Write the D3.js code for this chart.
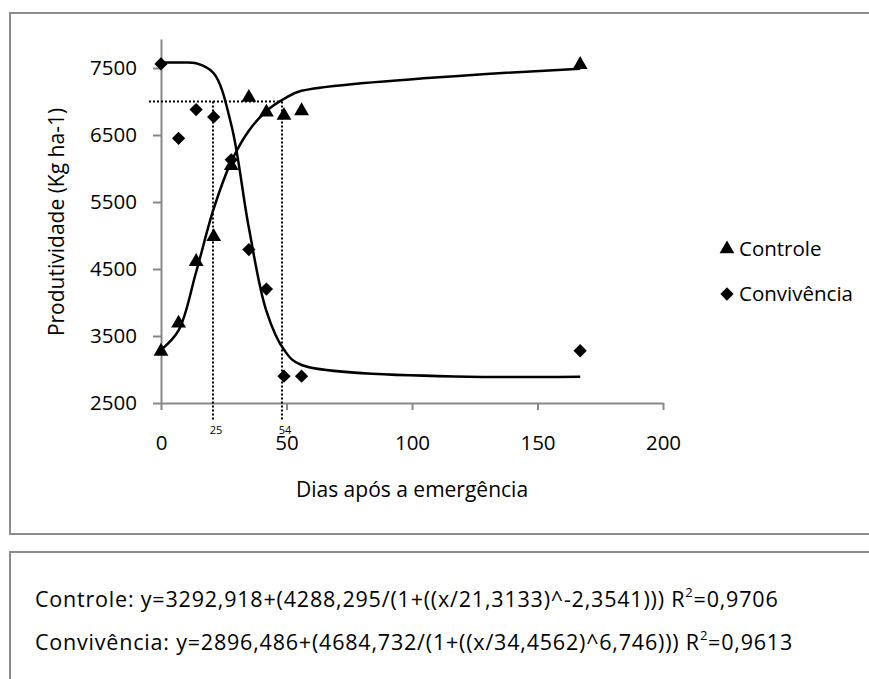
<!DOCTYPE html>
<html>
<head>
<meta charset="utf-8">
<script src="https://cdn.jsdelivr.net/npm/d3@7/dist/d3.min.js"></script>
<style>
  body { margin: 0; background: #fff; }
  text { font-family: "Open Sans", sans-serif; fill: #000; }
  .axis path, .axis line { stroke: #878787; stroke-width: 2; }
  .axis text { font-size: 20.5px; }
</style>
</head>
<body>
<div class="chart"></div>
<script>
// Produtividade x dias apos a emergencia

// observed points
var days = [0, 7, 14, 21, 28, 35, 42, 49, 56, 167];
var controle = [3270, 3690, 4610, 4980, 6040, 7060, 6840, 6790, 6860, 7550];
var convivencia = [7560, 6450, 6880, 6770, 6130, 4790, 4200, 2900, 2900, 3280];

// fitted curves
var fitControle = [3293, 3584, 4455, 5400, 6103, 6564, 6859, 7040, 7160, 7490];
var fitConvivencia = [7581, 7581, 7571, 7421, 6654, 5115, 3872, 3295, 3067, 2890];

// dotted guides
var guideDays = [20.7, 48.2];
var guideLabels = ["25", "54"];
var guideYield = 7000;

var xTicks = [0, 50, 100, 150, 200];
var yTicks = [2500, 3500, 4500, 5500, 6500, 7500];

var equations = [
  { text: "Controle: y=3292,918+(4288,295/(1+((x/21,3133)^-2,3541))) R", r2: "=0,9706" },
  { text: "Convivência: y=2896,486+(4684,732/(1+((x/34,4562)^6,746))) R", r2: "=0,9613" }
];

var svgWidth = 869;
var svgHeight = 679;

var svg = d3.select(".chart")
  .append("svg")
  .attr("width", svgWidth)
  .attr("height", svgHeight);

// the two framed boxes
svg.append("rect")
  .attr("x", 10).attr("y", 13)
  .attr("width", 900).attr("height", 521)
  .attr("fill", "none").attr("stroke", "#8c8c8c").attr("stroke-width", 2);

svg.append("rect")
  .attr("x", 10).attr("y", 552)
  .attr("width", 900).attr("height", 200)
  .attr("fill", "none").attr("stroke", "#8c8c8c").attr("stroke-width", 2);

var xScale = d3.scaleLinear().domain([0, 200]).range([161, 663]);
var yScale = d3.scaleLinear().domain([2500, 7933]).range([403, 39]);

var bottomAxis = d3.axisBottom(xScale)
  .tickValues(xTicks)
  .tickSize(7)
  .tickSizeOuter(0)
  .tickPadding(25);

var leftAxis = d3.axisLeft(yScale)
  .tickValues(yTicks)
  .tickFormat(d3.format("d"))
  .tickSize(8)
  .tickSizeOuter(0)
  .tickPadding(16);

svg.append("g")
  .attr("class", "axis")
  .attr("transform", "translate(0," + yScale(2500) + ")")
  .call(bottomAxis);

svg.append("g")
  .attr("class", "axis")
  .attr("transform", "translate(" + xScale(0) + ",0)")
  .call(leftAxis);

// dotted guide lines
svg.append("line")
  .attr("x1", xScale(-4.8)).attr("x2", xScale(guideDays[1]))
  .attr("y1", yScale(guideYield)).attr("y2", yScale(guideYield))
  .attr("stroke", "#000").attr("stroke-width", 2).attr("stroke-dasharray", "2,2");

svg.selectAll(".guide")
  .data(guideDays)
  .enter().append("line")
    .attr("class", "guide")
    .attr("x1", function(d) { return xScale(d); })
    .attr("x2", function(d) { return xScale(d); })
    .attr("y1", yScale(guideYield))
    .attr("y2", yScale(2245))
    .attr("stroke", "#000").attr("stroke-width", 2).attr("stroke-dasharray", "2,2");

svg.selectAll(".guide-label")
  .data(guideDays)
  .enter().append("text")
    .attr("class", "guide-label")
    .attr("x", function(d) { return xScale(d) + 3; })
    .attr("y", 434)
    .attr("text-anchor", "middle")
    .style("font-size", "11px")
    .text(function(d, i) { return guideLabels[i]; });

// fitted lines
var line = d3.line()
  .x(function(d) { return xScale(d[0]); })
  .y(function(d) { return yScale(d[1]); })
  .curve(d3.curveCatmullRom.alpha(0.5));

[fitControle, fitConvivencia].forEach(function(fit) {
  svg.append("path")
    .datum(days.map(function(d, i) { return [d, fit[i]]; }))
    .attr("d", line)
    .attr("fill", "none")
    .attr("stroke", "#000")
    .attr("stroke-width", 2.5);
});

// markers
var triangle = d3.symbol().type(d3.symbolTriangle).size(95);
var diamond = d3.symbol().type(d3.symbolSquare).size(88);

svg.selectAll(".tri")
  .data(days)
  .enter().append("path")
    .attr("class", "tri")
    .attr("d", triangle)
    .attr("transform", function(d, i) {
      return "translate(" + xScale(d) + "," + yScale(controle[i]) + ")";
    })
    .attr("fill", "#000");

svg.selectAll(".dia")
  .data(days)
  .enter().append("path")
    .attr("class", "dia")
    .attr("d", diamond)
    .attr("transform", function(d, i) {
      return "translate(" + xScale(d) + "," + yScale(convivencia[i]) + ") rotate(45)";
    })
    .attr("fill", "#000");

// axis titles
svg.append("text")
  .attr("transform", "translate(64,222) rotate(-90)")
  .attr("text-anchor", "middle")
  .style("font-size", "21px")
  .text("Produtividade (Kg ha-1)");

svg.append("text")
  .attr("x", 412)
  .attr("y", 497)
  .attr("text-anchor", "middle")
  .style("font-size", "21px")
  .text("Dias após a emergência");

// legend
var legend = svg.append("g").attr("transform", "translate(727,249)");
legend.append("path").attr("d", triangle).attr("fill", "#000");
legend.append("text").attr("x", 12).attr("y", 7).style("font-size", "20.5px").text("Controle");
legend.append("path").attr("d", diamond).attr("transform", "translate(0,45) rotate(45)").attr("fill", "#000");
legend.append("text").attr("x", 12).attr("y", 52).style("font-size", "20.5px").text("Convivência");

// equations
var eq = svg.selectAll(".eq")
  .data(equations)
  .enter().append("text")
    .attr("class", "eq")
    .attr("x", 35)
    .attr("y", function(d, i) { return 607 + i * 43; })
    .style("font-size", "21.5px")
    .style("letter-spacing", "0.8px");

eq.append("tspan").text(function(d) { return d.text; });
eq.append("tspan").attr("dy", -10).style("font-size", "13px").text("2");
eq.append("tspan").attr("dy", 10).text(function(d) { return d.r2; });
</script>
</body>
</html>
